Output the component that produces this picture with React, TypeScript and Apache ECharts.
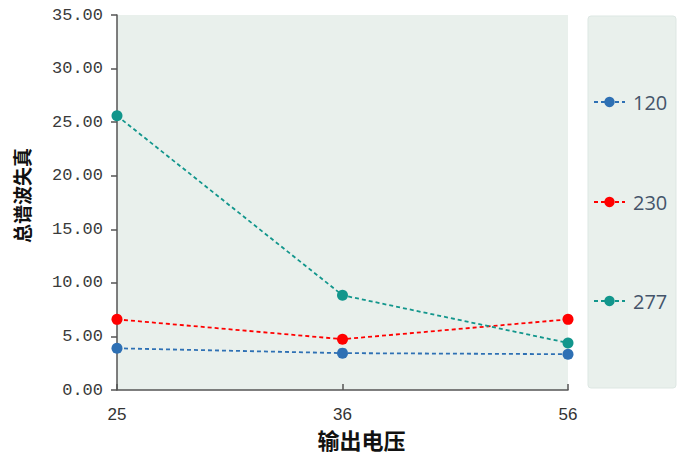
import React, { useEffect, useRef } from "react";
import * as echarts from "echarts";

const categories = ["25", "36", "56"];
const seriesNames = ["120", "230", "277"];
const values120 = [3.9, 3.45, 3.35];
const values230 = [6.6, 4.75, 6.6];
const values277 = [25.6, 8.85, 4.4];
const colors = ["#2e70b4", "#ff0000", "#12968c"];
const yMax = 35;
const yInterval = 5;

export default function App() {
  const ref = useRef<HTMLDivElement>(null);
  useEffect(() => {
    if (!ref.current) return;
    const chart = echarts.init(ref.current, undefined, { renderer: "svg" });
    const allValues = [values120, values230, values277];
    const legendCenters = [102, 202, 301];
    chart.setOption({
      animation: false,
      backgroundColor: "#ffffff",
      grid: {
        left: 117,
        right: 115,
        top: 15,
        bottom: 64,
        show: true,
        backgroundColor: "#e9f0ec",
        borderWidth: 0,
      },
      graphic: [
        {
          type: "rect",
          z: 0,
          shape: { x: 588, y: 16, width: 88, height: 372, r: 3 },
          style: { fill: "#e9f0ec", stroke: "#dde7e3", lineWidth: 1 },
        },
      ],
      legend: seriesNames.map((n, i) => ({
        data: [n],
        orient: "vertical",
        left: 593,
        top: legendCenters[i] - 10,
        padding: 0,
        itemWidth: 31,
        itemHeight: 13,
        textStyle: {
          fontFamily: "Open Sans",
          fontSize: 20,
          color: "#44546a",
          lineHeight: 20,
          padding: [0, 0, 0, 3],
        },
      })),
      xAxis: {
        type: "category",
        data: categories,
        boundaryGap: false,
        name: "输出电压",
        nameLocation: "middle",
        nameGap: 36,
        nameTextStyle: {
          fontFamily: "Noto Sans CJK SC",
          fontWeight: "bold",
          fontSize: 22,
          color: "#111111",
          padding: [0, 0, 0, 38],
        },
        axisLine: { show: true, lineStyle: { color: "#555555", width: 1.5 } },
        axisTick: { show: true, inside: true, length: 6, alignWithLabel: true, lineStyle: { color: "#555555", width: 1.5 } },
        axisLabel: {
          fontFamily: "Liberation Sans",
          fontSize: 17,
          color: "#333333",
          margin: 16,
        },
        splitLine: { show: false },
      },
      yAxis: {
        type: "value",
        min: 0,
        max: yMax,
        interval: yInterval,
        name: "总谱波失真",
        nameLocation: "middle",
        nameRotate: 90,
        nameGap: 86,
        nameTextStyle: {
          fontFamily: "Noto Sans CJK SC",
          fontWeight: "bold",
          fontSize: 19,
          color: "#111111",
          padding: [0, 0, 0, 14],
        },
        axisLine: { show: true, lineStyle: { color: "#555555", width: 1.5 } },
        axisTick: { show: true, inside: false, length: 6, lineStyle: { color: "#555555", width: 1.5 } },
        axisLabel: {
          fontFamily: "Liberation Mono",
          fontSize: 17,
          color: "#3a3a3a",
          margin: 14,
          formatter: (v: number) => v.toFixed(2),
        },
        splitLine: { show: false },
      },
      series: seriesNames.map((n, i) => ({
        name: n,
        type: "line",
        data: allValues[i],
        symbol: "circle",
        symbolSize: 11,
        lineStyle: { color: colors[i], width: 1.8, type: [4, 3] },
        itemStyle: { color: colors[i] },
        emphasis: { disabled: true },
      })),
    });
    return () => chart.dispose();
  }, []);
  return <div ref={ref} style={{ width: 683, height: 455, position: "absolute", left: 0, top: 0 }} />;
}
